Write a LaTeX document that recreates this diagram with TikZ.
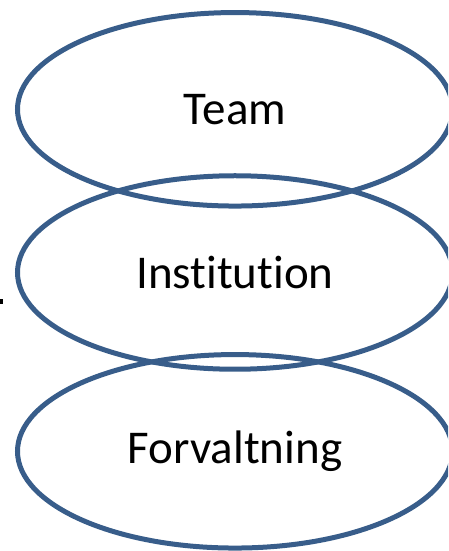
\documentclass[tikz,border=0pt]{standalone}
\usepackage{fontspec}
\setmainfont{Carlito}[Ligatures=NoCommon]
\usetikzlibrary{shapes.geometric}
\definecolor{ringblue}{HTML}{385D8A}
\begin{document}
\begin{tikzpicture}[x=1pt,y=1pt,
  ring/.style={ellipse, draw=ringblue, line width=5pt, minimum width=435pt, minimum height=193.5pt, inner sep=0pt, font=\fontsize{47}{56}\selectfont}]
\useasboundingbox (0,0) rectangle (448,551);
\begin{scope}
\clip (0,0) rectangle (448,551);
\node[ring] (team) at (235,441.7) {Team};
\node[ring] (inst) at (235,278.5) {Institution};
\node[ring] (forv) at (235,99.7) {Forvaltning};
\fill[black] (0,247) rectangle (2.7,252) coordinate (dot);
\end{scope}
\end{tikzpicture}
\end{document}
